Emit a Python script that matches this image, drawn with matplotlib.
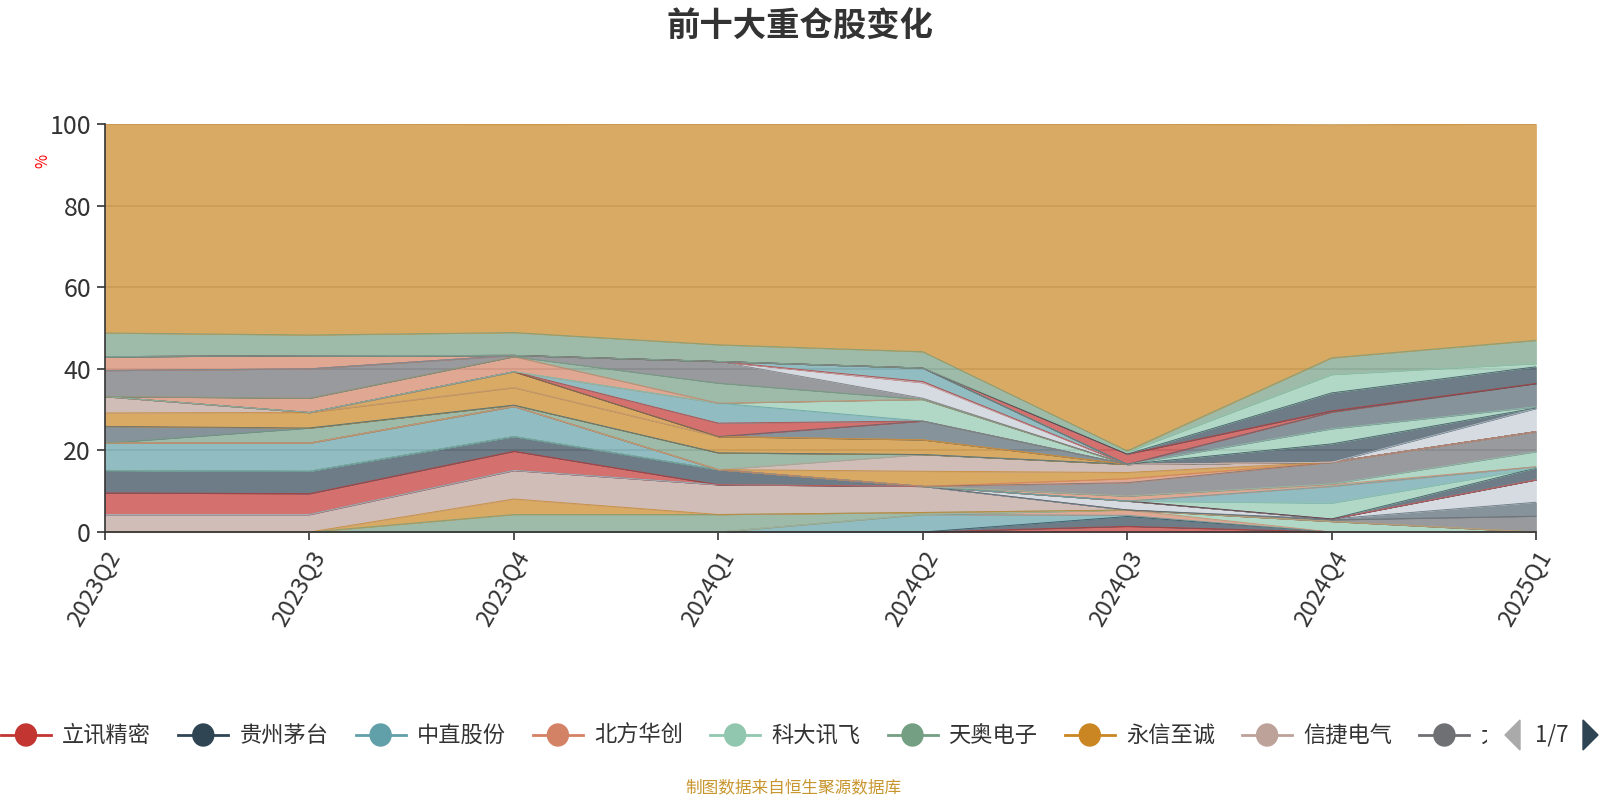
import numpy as np
import matplotlib
matplotlib.use("Agg")
import matplotlib.pyplot as plt
from matplotlib.patches import Rectangle, Ellipse, Polygon
from matplotlib.lines import Line2D

plt.rcParams['font.family'] = ['Noto Sans CJK SC', 'DejaVu Sans']

quarters = ["2023Q2", "2023Q3", "2023Q4", "2024Q1", "2024Q2", "2024Q3", "2024Q4", "2025Q1"]

# legend page 1 (first nine series, bottom of the stack)
legend_names = ["立讯精密", "贵州茅台", "中直股份", "北方华创", "科大讯飞",
                "天奥电子", "永信至诚", "信捷电气", "大族激光"]

# holding weight (%) per quarter, bottom of stack -> top
shares = [
    [0, 0, 0, 0, 0, 1.4, 0, 0],          # 立讯精密
    [0, 0, 0, 0, 0, 2.4, 0, 0],          # 贵州茅台
    [0, 0, 0, 0, 4.3, 0.3, 0, 0],        # 中直股份
    [0, 0, 0, 0, 0, 1.3, 0, 0],          # 北方华创
    [0, 0, 0, 0, 0, 0, 2.6, 0],          # 科大讯飞
    [0, 0, 4.3, 4.3, 0.5, 0, 0, 0],      # 天奥电子
    [0, 0, 3.8, 0, 0, 0, 0, 0],          # 永信至诚
    [4.3, 4.3, 7.0, 7.3, 6.4, 0, 0, 0],  # 信捷电气
    [0, 0, 0, 0, 0, 0, 0.4, 3.9],
    [0, 0, 0, 0, 0, 0, 0.2, 3.4],
    [0, 0, 0, 0, 0, 2.2, 0, 5.5],
    [5.3, 5.1, 4.7, 0, 0, 0, 0, 0],
    [5.5, 5.5, 3.6, 3.7, 0, 0, 0, 2.9],
    [0, 0, 0, 0, 0, 0, 3.9, 0],
    [6.7, 6.9, 7.4, 0, 0, 0, 4.1, 0.3],
    [0, 0, 0, 0, 0, 1.2, 0.4, 0],
    [0, 0, 0, 0, 0, 0, 0.2, 3.7],
    [0, 0, 0, 0, 0, 3.3, 5.3, 4.9],
    [0, 0, 0, 0, 0, 1.0, 0, 0],
    [0, 0, 0, 0, 3.7, 1.5, 0, 0],
    [0, 0, 0, 0, 4.1, 2.0, 0, 0],
    [0, 3.7, 0.3, 4.1, 0, 0, 0, 0],
    [4.1, 0, 0, 0, 0, 0, 0, 0],
    [3.3, 3.8, 4.3, 4.0, 3.6, 0, 0, 0],
    [4.0, 0, 0, 0, 0, 0, 0, 0],
    [0, 0, 3.9, 0, 0, 0, 0, 0],
    [0, 0, 0, 0, 4.6, 0, 0, 0],
    [0, 0, 0, 3.3, 0, 0, 0, 0],
    [0, 0, 0, 4.9, 0, 0, 0, 0],
    [0, 0, 0, 0, 5.3, 0, 0, 0],
    [0, 3.5, 3.7, 0, 0, 0, 0, 0],
    [0, 0, 0, 4.9, 0, 0, 0, 0],
    [6.4, 7.2, 0.3, 5.3, 0.3, 0, 0, 0],
    [0, 0, 0, 0, 3.8, 0, 0, 0],
    [0, 0, 0, 0, 0.3, 0, 0, 0],
    [0, 0, 0, 0, 3.3, 0, 0, 0],
    [3.4, 3.2, 0, 0, 0, 0, 0, 0],
    [0, 0, 0, 0, 0, 0, 0, 5.7],
    [0, 0, 0, 0, 0, 0, 4.5, 0.1],
    [0, 0, 0, 0, 0, 0, 3.7, 0.3],
    [0, 0, 0, 0, 0, 0, 4.1, 5.7],
    [0, 0, 0, 0, 0, 2.5, 0.3, 0],
    [0, 0, 0, 0, 0, 0, 4.4, 4.1],
    [0, 0, 0, 0, 0, 0.5, 4.5, 0.8],
    [5.8, 5.1, 5.6, 4.1, 4.0, 0.3, 4.1, 5.7],
    [51.2, 51.7, 51.0, 54.1, 55.8, 80.1, 57.1, 53.0],  # 其他
]

palette = {'red': '#c23531', 'dark': '#2f4554', 'teal': '#61a0a8', 'salmon': '#d48265',
           'mint': '#91c7ae', 'green': '#749f83', 'orange': '#ca8622', 'tan': '#bda29a',
           'grey': '#6e7074', 'slate': '#546570', 'light': '#c4ccd3'}
series_colors = ['red', 'dark', 'teal', 'salmon', 'mint', 'green', 'orange', 'tan', 'grey',
                 'slate', 'light', 'red', 'dark', 'mint', 'teal', 'salmon', 'mint', 'grey',
                 'salmon', 'orange', 'tan', 'green', 'slate', 'orange', 'tan', 'orange', 'slate',
                 'red', 'teal', 'mint', 'salmon', 'green', 'grey', 'light', 'red', 'teal',
                 'salmon', 'light', 'dark', 'mint', 'slate', 'red', 'dark', 'mint', 'green',
                 'orange']
colors = [palette[c] for c in series_colors]

W, H = 1600, 800
fig = plt.figure(figsize=(16, 8), dpi=100)
ax = fig.add_axes([105 / W, 1 - 532 / H, (1536 - 105) / W, (532 - 124) / H])

x = np.arange(len(quarters))
ax.grid(axis='y', color='#cccccc', linewidth=1.2, zorder=0)
ax.set_axisbelow(True)
ax.stackplot(x, *shares, colors=colors, alpha=0.7, linewidth=0.4,
             edgecolor='face', zorder=2)
tops = np.cumsum(np.array(shares), axis=0)
for top, c in zip(tops, colors):
    ax.plot(x, top, color=c, linewidth=0.6, alpha=0.8, zorder=3)

ax.set_xlim(0, len(quarters) - 1)
ax.set_ylim(0, 100)
ax.set_yticks([0, 20, 40, 60, 80, 100])
ax.set_xticks(x)
ax.set_xticklabels(quarters, rotation=60, ha='right', va='top', rotation_mode='anchor')
ax.tick_params(axis='both', colors='#333333', length=6, width=1.2)
ax.tick_params(axis='y', labelsize=18, pad=4)
ax.tick_params(axis='x', labelsize=17, pad=5)
for side in ['top', 'right']:
    ax.spines[side].set_visible(False)
for side in ['left', 'bottom']:
    ax.spines[side].set_color('#333333')
    ax.spines[side].set_linewidth(1.2)
    ax.spines[side].set_zorder(5)

fig.text(43 / W, 1 - 161 / H, "%", color='red', fontsize=11, rotation=90,
         ha='center', va='center')
fig.text(0.5, 1 - 27 / H, "前十大重仓股变化", fontsize=24, fontweight='bold',
         color='#333333', ha='center', va='center')

# legend (first page of seven); the last item is cut off by the pager
ly = 1 - 735 / H
for i, (name, c) in enumerate(zip(legend_names, colors[:9])):
    cx = (26 + 177.3 * i) / W
    fig.add_artist(Line2D([cx - 25 / W, cx + 25 / W], [ly, ly], color=c, linewidth=2,
                          transform=fig.transFigure, zorder=3))
    fig.add_artist(Ellipse((cx, ly), 21 / W, 22 / H, color=c,
                           transform=fig.transFigure, zorder=4))
    label = name if i < len(legend_names) - 1 else name[:1]
    fig.text(cx + 36 / W, ly, label, fontsize=16, color='#333333',
             ha='left', va='center', zorder=3)
fig.add_artist(Rectangle((1487 / W, ly - 25 / H), 120 / W, 50 / H,
                         facecolor='white', edgecolor='none', transform=fig.transFigure,
                         zorder=6))
fig.add_artist(Polygon([[1520 / W, ly + 15 / H], [1520 / W, ly - 15 / H],
                        [1505 / W, ly]], closed=True, color='#aaaaaa',
                       transform=fig.transFigure, zorder=7))
fig.text(1552 / W, ly, "1/7", fontsize=16, color='#333333', ha='center', va='center',
         zorder=8)
fig.add_artist(Polygon([[1583 / W, ly + 15 / H], [1583 / W, ly - 15 / H],
                        [1598 / W, ly]], closed=True, color='#2f4554',
                       transform=fig.transFigure, zorder=7))

fig.text(793 / W, 1 - 789 / H, "制图数据来自恒生聚源数据库", fontsize=12, color='#c8962e',
         ha='center', va='center')

fig.savefig("out.png", dpi=100)
